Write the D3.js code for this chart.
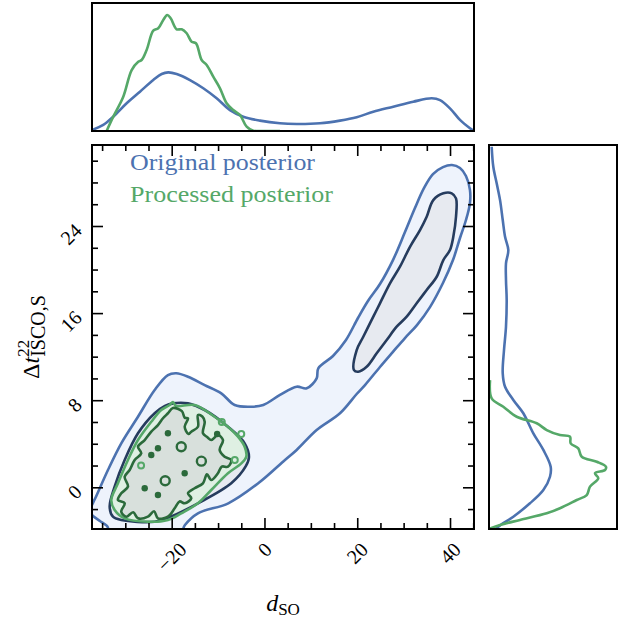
<!DOCTYPE html>
<html><head><meta charset="utf-8">
<script src="https://cdn.jsdelivr.net/npm/d3@7"></script>
<style>body{margin:0;background:#fff} text{font-family:"Liberation Serif","Times New Roman",serif}</style>
</head><body><svg id="c" width="626" height="622"></svg>
<script>
// ---------- data ----------
const xMajorTicks = [-20, 0, 20, 40];
const xMinorTicks = [-35, -30, -25, -15, -10, -5, 5, 10, 15, 25, 30, 35, 45];
const yMajorTicks = [0, 8, 16, 24];
const yMinorTicks = [-2, 2, 4, 6, 10, 12, 14, 18, 20, 22, 26, 28, 30];
const xTickLabels = ["\u221220", "0", "20", "40"];
const yTickLabels = ["0", "8", "16", "24"];
const seriesNames = ["Original posterior", "Processed posterior"];

// 2D contours [d_SO, dt]
const blueOuter = [[-36.48,-1.01],[-37.41,-1.81],[-37.84,-2.27],[-36.97,-2.63],[-35.47,-3.09],[-33.96,-3.55],[-33.10,-4.19],[-18.22,-4.28],[-17.14,-3.46],[-14.34,-2.39],[-7.80,-1.47],[-1.34,0.37],[4.42,2.51],[6.94,3.43],[11.25,5.26],[16.28,6.80],[19.88,8.57],[21.67,9.39],[24.90,11.05],[27.70,12.44],[30.29,13.71],[32.88,14.90],[35.68,16.55],[38.48,18.76],[40.64,20.87],[42.15,22.90],[43.44,24.55],[44.30,26.11],[44.30,27.30],[43.44,28.59],[42.15,29.32],[40.42,29.60],[38.48,29.41],[36.32,28.77],[34.38,27.48],[32.44,25.65],[30.29,23.44],[27.70,20.87],[24.90,18.67],[22.31,17.11],[20.16,15.55],[17.57,13.53],[14.77,12.06],[11.60,10.93],[11.25,10.01],[9.10,9.09],[6.94,9.24],[3.34,8.48],[-0.26,7.56],[-2.85,7.40],[-6.42,7.56],[-9.31,8.63],[-12.89,9.39],[-16.49,10.16],[-19.02,10.47],[-20.81,10.31],[-23.67,8.94],[-27.27,6.48],[-30.87,4.04],[-33.74,1.59]];
const blueInnerRidge = [[19.30,10.77],[19.88,12.61],[21.30,13.83],[23.46,15.67],[24.90,16.90],[27.06,18.73],[29.21,20.26],[31.37,22.09],[33.53,23.63],[34.97,24.85],[36.39,26.38],[38.56,27.00],[40.37,27.00],[41.29,26.54],[41.29,24.85],[40.71,23.01],[39.99,21.79],[38.56,20.87],[37.13,19.34],[34.97,18.12],[32.81,16.90],[30.66,15.67],[28.50,14.75],[26.35,13.53],[24.19,12.31],[22.03,11.07],[20.22,10.62]];
const blueInnerBlob = [[-19.73,7.71],[-16.49,7.71],[-12.89,7.10],[-7.87,5.56],[-4.27,4.04],[-3.34,2.78],[-3.99,1.96],[-7.16,0.37],[-14.34,-1.47],[-20.37,-2.73],[-23.67,-3.16],[-30.87,-3.00],[-32.66,-2.70],[-33.37,-1.78],[-32.30,0.06],[-30.14,2.51],[-27.27,4.96],[-23.67,6.80],[-21.45,7.47]];
const greenOuter = [[-20.44,7.56],[-19.73,7.83],[-19.08,7.47],[-15.05,7.56],[-10.74,6.48],[-7.87,5.56],[-5.71,4.65],[-4.27,3.73],[-3.92,2.81],[-5.00,2.20],[-7.87,1.29],[-11.47,-0.25],[-14.34,-1.47],[-17.94,-2.39],[-20.81,-3.00],[-25.12,-3.16],[-30.14,-2.85],[-32.30,-2.08],[-33.03,-1.17],[-31.59,0.37],[-29.43,2.51],[-27.27,4.34],[-24.40,6.02],[-22.25,7.10]];
const greenInner = [[-19.73,7.28],[-17.80,7.00],[-17.20,6.40],[-16.49,6.34],[-17.20,5.56],[-16.40,4.90],[-15.78,5.11],[-14.34,5.56],[-14.34,6.64],[-13.40,6.50],[-12.89,6.02],[-13.26,4.96],[-12.30,4.60],[-11.47,4.34],[-10.03,4.80],[-8.95,4.34],[-9.66,3.43],[-8.58,2.81],[-7.16,2.51],[-7.87,1.89],[-9.20,1.90],[-10.03,1.29],[-11.47,0.67],[-12.40,1.20],[-13.26,0.37],[-15.05,-0.09],[-16.49,-0.55],[-15.78,-1.01],[-17.20,-1.47],[-18.30,-1.30],[-19.36,-1.93],[-20.81,-2.70],[-22.96,-2.85],[-23.80,-2.20],[-25.12,-2.70],[-27.27,-2.85],[-28.30,-2.30],[-29.80,-2.70],[-30.87,-2.24],[-30.14,-1.47],[-31.59,-1.17],[-30.87,-0.55],[-29.43,0.06],[-30.14,0.97],[-29.06,1.59],[-27.98,2.51],[-26.56,3.12],[-27.27,3.73],[-25.82,4.34],[-24.40,5.11],[-22.96,5.72],[-21.88,6.34],[-20.81,6.80]];
const greenInnerDots = [[-17.20,1.29],[-25.82,-0.09],[-22.96,-0.71],[-22.96,3.58],[-24.40,2.97],[-20.81,4.96],[-10.2,4.9]];
const greenInnerLoops = [[-17.94,3.73],[-21.4,0.6],[-13.6,2.4]];
const greenOuterLoops = [[-5.0,4.9],[-6.4,2.5],[-9.2,6.0],[-26.6,2.0]];

// 1D marginals: top [d_SO, density], right [dt, density]
const topBlue = [[-37.13,0.009],[-34.75,0.052],[-32.60,0.123],[-29.71,0.238],[-26.84,0.338],[-23.97,0.438],[-22.16,0.490],[-20.74,0.504],[-18.93,0.490],[-16.06,0.438],[-13.19,0.367],[-10.31,0.281],[-7.44,0.180],[-4.57,0.123],[-0.97,0.089],[3.34,0.066],[6.94,0.060],[11.97,0.066],[16.28,0.089],[19.88,0.118],[23.46,0.166],[27.77,0.209],[32.08,0.252],[36.05,0.281],[37.84,0.266],[39.99,0.195],[42.15,0.095],[44.30,0.023],[45.02,0.003]];
const topGreen = [[-34.02,0.0],[-32.60,0.123],[-30.44,0.295],[-28.63,0.524],[-27.21,0.596],[-26.48,0.610],[-25.40,0.696],[-23.97,0.862],[-22.90,0.883],[-21.82,0.954],[-20.96,0.997],[-20.22,0.969],[-18.93,0.874],[-17.85,0.874],[-16.77,0.840],[-15.70,0.767],[-14.77,0.754],[-13.54,0.610],[-12.46,0.567],[-11.04,0.467],[-9.59,0.367],[-8.15,0.238],[-6.73,0.180],[-5.28,0.138],[-3.84,0.037],[-2.41,0.003],[0.47,0.0],[3.34,0.0]];
const rightBlue = [[31.28,0.023],[29.44,0.037],[27.92,0.066],[26.38,0.095],[24.55,0.118],[23.01,0.138],[21.79,0.166],[20.57,0.146],[19.04,0.146],[17.20,0.152],[14.75,0.146],[12.61,0.129],[10.47,0.118],[9.24,0.138],[8.02,0.209],[6.80,0.295],[4.96,0.381],[3.43,0.467],[1.89,0.530],[0.97,0.524],[-0.25,0.467],[-1.47,0.352],[-2.70,0.209],[-3.62,0.080],[-3.92,0.052]];
const rightGreen = [[9.85,0.009],[8.17,0.023],[7.40,0.123],[6.48,0.238],[5.88,0.410],[5.26,0.496],[4.80,0.610],[4.65,0.696],[4.04,0.702],[3.58,0.767],[2.81,0.797],[2.35,0.926],[1.89,1.005],[1.59,0.997],[1.29,0.911],[0.83,0.939],[0.06,0.868],[-0.71,0.840],[-1.17,0.754],[-1.93,0.610],[-2.39,0.496],[-3.00,0.266],[-3.46,0.095],[-3.77,0.009]];

// ---------- layout ----------
const svg = d3.select("#c");
svg.append("rect").attr("width",626).attr("height",622).attr("fill","#fff");
const M = {l:92, r:474, t:145, b:529};
const T = {t:3, b:131};
const R = {l:489, r:617};
const x = d3.scaleLinear().domain([-37.18, 45.17]).range([M.l, M.r]);
const y = d3.scaleLinear().domain([-3.83, 31.44]).range([M.b, M.t]);
const dTop = d3.scaleLinear().domain([0, 1.1]).range([T.b, T.t]);
const dRight = d3.scaleLinear().domain([0, 1.1]).range([R.l, R.r]);

const BLUE = "#4c72b0", GREEN = "#55a868", DBLUE = "#263c5e", DGREEN = "#2b6a3b";

const defs = svg.append("defs");
defs.append("clipPath").attr("id","cm").append("rect").attr("x",M.l).attr("y",M.t).attr("width",M.r-M.l).attr("height",M.b-M.t);
defs.append("clipPath").attr("id","ct").append("rect").attr("x",M.l).attr("y",T.t).attr("width",M.r-M.l).attr("height",T.b-T.t);
defs.append("clipPath").attr("id","cr").append("rect").attr("x",R.l).attr("y",M.t).attr("width",R.r-R.l).attr("height",M.b-M.t);

const closed = d3.line().x(d=>x(d[0])).y(d=>y(d[1])).curve(d3.curveCatmullRomClosed.alpha(0.5));
const main = svg.append("g").attr("clip-path","url(#cm)");
main.append("path").attr("d",closed(blueOuter)).attr("fill","#eef3fc");
[blueInnerRidge, blueInnerBlob].forEach(c=>main.append("path").attr("d",closed(c)).attr("fill","#e7eaf0"));
main.append("path").attr("d",closed(greenOuter)).attr("fill","#dff0e3");
main.append("path").attr("d",closed(greenInner)).attr("fill","#d8e0dc");
main.append("path").attr("d",closed(blueOuter)).attr("fill","none").attr("stroke",BLUE).attr("stroke-width",2.6);
[blueInnerRidge, blueInnerBlob].forEach(c=>main.append("path").attr("d",closed(c)).attr("fill","none").attr("stroke",DBLUE).attr("stroke-width",2.6));
main.append("path").attr("d",closed(greenOuter)).attr("fill","none").attr("stroke",GREEN).attr("stroke-width",2.6);
main.append("path").attr("d",closed(greenInner)).attr("fill","none").attr("stroke",DGREEN).attr("stroke-width",2.6);
main.selectAll("circle.gd").data(greenInnerDots).enter().append("circle")
  .attr("cx",d=>x(d[0])).attr("cy",d=>y(d[1])).attr("r",3.2).attr("fill",DGREEN);
main.selectAll("circle.gl").data(greenInnerLoops).enter().append("circle")
  .attr("cx",d=>x(d[0])).attr("cy",d=>y(d[1])).attr("r",4.5).attr("fill","none").attr("stroke",DGREEN).attr("stroke-width",2.4);
main.selectAll("circle.go").data(greenOuterLoops).enter().append("circle")
  .attr("cx",d=>x(d[0])).attr("cy",d=>y(d[1])).attr("r",3).attr("fill","none").attr("stroke",GREEN).attr("stroke-width",2);

// legend
const leg = svg.append("g");
leg.append("text").attr("x",130).attr("y",170).attr("fill",BLUE).attr("font-size",23)
  .attr("textLength",185).attr("lengthAdjust","spacingAndGlyphs").text(seriesNames[0]);
leg.append("text").attr("x",130).attr("y",202).attr("fill",GREEN).attr("font-size",23)
  .attr("textLength",203).attr("lengthAdjust","spacingAndGlyphs").text(seriesNames[1]);

// marginals
const topLine = d3.line().x(d=>x(d[0])).y(d=>dTop(d[1])).curve(d3.curveCatmullRom);
const rightLine = d3.line().x(d=>dRight(d[1])).y(d=>y(d[0])).curve(d3.curveCatmullRom);
const gt = svg.append("g").attr("clip-path","url(#ct)");
gt.append("path").attr("d",topLine(topBlue)).attr("fill","none").attr("stroke",BLUE).attr("stroke-width",2.6);
gt.append("path").attr("d",topLine(topGreen)).attr("fill","none").attr("stroke",GREEN).attr("stroke-width",2.6);
const gr = svg.append("g").attr("clip-path","url(#cr)");
gr.append("path").attr("d",rightLine(rightBlue)).attr("fill","none").attr("stroke",BLUE).attr("stroke-width",2.6);
gr.append("path").attr("d",rightLine(rightGreen)).attr("fill","none").attr("stroke",GREEN).attr("stroke-width",2.6);

// axes (inward ticks on all four sides)
function ax(gen, scale, vals, len, tr){
  const g = svg.append("g").attr("transform",tr)
    .call(gen(scale).tickValues(vals).tickSize(-len).tickFormat(""));
  g.select(".domain").remove();
  g.selectAll("line").attr("stroke","#000").attr("stroke-width",1.6);
}
ax(d3.axisBottom, x, xMajorTicks, 11, `translate(0,${M.b})`);
ax(d3.axisBottom, x, xMinorTicks, 6, `translate(0,${M.b})`);
ax(d3.axisTop, x, xMajorTicks, 11, `translate(0,${M.t})`);
ax(d3.axisTop, x, xMinorTicks, 6, `translate(0,${M.t})`);
ax(d3.axisLeft, y, yMajorTicks, 11, `translate(${M.l},0)`);
ax(d3.axisLeft, y, yMinorTicks, 6, `translate(${M.l},0)`);
ax(d3.axisRight, y, yMajorTicks, 11, `translate(${M.r},0)`);
ax(d3.axisRight, y, yMinorTicks, 6, `translate(${M.r},0)`);

// frames
[[M.l,M.t,M.r-M.l,M.b-M.t],[M.l,T.t,M.r-M.l,T.b-T.t],[R.l,M.t,R.r-R.l,M.b-M.t]].forEach(r=>
  svg.append("rect").attr("x",r[0]).attr("y",r[1]).attr("width",r[2]).attr("height",r[3])
    .attr("fill","none").attr("stroke","#000").attr("stroke-width",2));

// tick labels
xMajorTicks.forEach((v,i)=>{
  const t = svg.append("text").attr("font-size",20).attr("text-anchor","middle")
    .attr("dominant-baseline","central").text(xTickLabels[i]);
  const w = t.node().getComputedTextLength();
  const cy = 541 + 0.354*(w+14);
  t.attr("transform",`translate(${x(v)},${cy}) rotate(-45)`);
});
yMajorTicks.forEach((v,i)=>{
  svg.append("text").attr("font-size",20).attr("text-anchor","end")
    .attr("dominant-baseline","central").text(yTickLabels[i])
    .attr("transform",`translate(78,${y(v)+1}) rotate(-45)`);
});

// axis labels
const xl = svg.append("text").attr("x",(M.l+M.r)/2).attr("y",611).attr("text-anchor","middle").attr("font-size",24);
xl.append("tspan").attr("font-style","italic").text("d");
xl.append("tspan").attr("font-size",17).attr("dy",4).text("SO");

const yl = svg.append("text").attr("text-anchor","middle").attr("font-size",24)
  .attr("transform",`translate(39,${(M.t+M.b)/2}) rotate(-90)`);
yl.append("tspan").text("\u0394");
yl.append("tspan").attr("font-style","italic").text("t");
yl.append("tspan").attr("font-size",17).attr("dy",-10).text("22");
yl.append("tspan").attr("font-size",20).attr("dx",-17).attr("dy",16).text("ISCO,S");
</script></body></html>
